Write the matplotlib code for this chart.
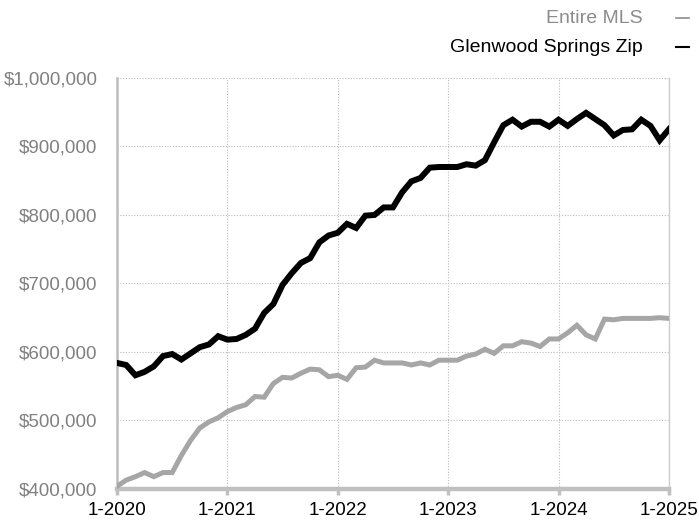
import matplotlib.pyplot as plt
from matplotlib.ticker import FuncFormatter

plt.rcParams['font.family'] = ['Liberation Sans', 'DejaVu Sans']

# monthly values, 1-2020 .. 1-2025 (61 months)
glenwood = [584000, 581000, 566000, 571000, 579000, 594000, 597000, 589000, 598000, 607000,
            611000, 623000, 618000, 619000, 625000, 634000, 657000, 670000, 698000, 715000,
            730000, 737000, 760000, 770000, 774000, 787000, 781000, 799000, 800000, 811000,
            811000, 833000, 849000, 854000, 869000, 870000, 870000, 870000, 874000, 872000,
            880000, 906000, 931000, 939000, 929000, 936000, 936000, 929000, 939000, 930000,
            940000, 949000, 940000, 931000, 916000, 924000, 925000, 939000, 930000, 909000, 925000]

entire_mls = [404000, 413000, 418000, 424000, 418000, 424000, 424000, 449000, 471000, 489000,
              498000, 504000, 513000, 519000, 523000, 535000, 534000, 554000, 563000, 562000,
              569000, 575000, 574000, 564000, 566000, 560000, 577000, 578000, 588000, 584000,
              584000, 584000, 581000, 584000, 581000, 588000, 588000, 588000, 594000, 597000,
              604000, 598000, 609000, 609000, 615000, 613000, 608000, 619000, 619000, 628000,
              639000, 625000, 619000, 648000, 647000, 649000, 649000, 649000, 649000, 650000, 649000]

year_ticks = [0, 12, 24, 36, 48, 60]
year_labels = ['1-2020', '1-2021', '1-2022', '1-2023', '1-2024', '1-2025']
y_ticks = [400000, 500000, 600000, 700000, 800000, 900000, 1000000]

fig = plt.figure(figsize=(6.99, 5.23), dpi=100)
ax = fig.add_axes([0.1674, 0.065, 0.7895, 0.786])

months = list(range(len(glenwood)))
ax.plot(months, entire_mls, color='#a6a6a6', lw=3.6, solid_joinstyle='miter', zorder=3)
ax.plot(months, glenwood, color='black', lw=4.3, solid_joinstyle='miter', zorder=4)

ax.set_xlim(0, 60)
ax.set_ylim(400000, 1000000)
ax.set_xticks(year_ticks)
ax.set_xticklabels(year_labels)
ax.set_yticks(y_ticks)
ax.yaxis.set_major_formatter(FuncFormatter(lambda v, p: '${:,.0f}'.format(v)))

ax.grid(True, color='#bbbbbb', linestyle=(0, (1, 1.5)), linewidth=0.8)
ax.set_axisbelow(True)

ax.spines['top'].set_visible(False)
ax.spines['left'].set_color('#bdbdbd')
ax.spines['left'].set_linewidth(1.8)
ax.spines['bottom'].set_color('#c0c0c0')
ax.spines['bottom'].set_linewidth(3.2)
ax.spines['right'].set_color('#cccccc')
ax.spines['right'].set_linewidth(1.0)

ax.tick_params(axis='x', colors='#c0c0c0', length=4, width=2.5, labelcolor='black',
               labelsize=13.5, pad=5)
ax.tick_params(axis='y', length=0, labelcolor='#808080', labelsize=13.5, pad=14)

# legend: text plus a short dash on the right
fig.text(0.919, 0.965, 'Entire MLS', ha='right', va='center', fontsize=14, color='#8c8c8c')
fig.text(0.919, 0.910, 'Glenwood Springs Zip', ha='right', va='center', fontsize=14,
         color='black')
fig.lines.append(plt.Line2D([0.967, 0.985], [0.965, 0.965], transform=fig.transFigure,
                            color='#8c8c8c', lw=1.2))
fig.lines.append(plt.Line2D([0.967, 0.985], [0.910, 0.910], transform=fig.transFigure,
                            color='black', lw=1.5))

fig.savefig('out.png', dpi=100)
